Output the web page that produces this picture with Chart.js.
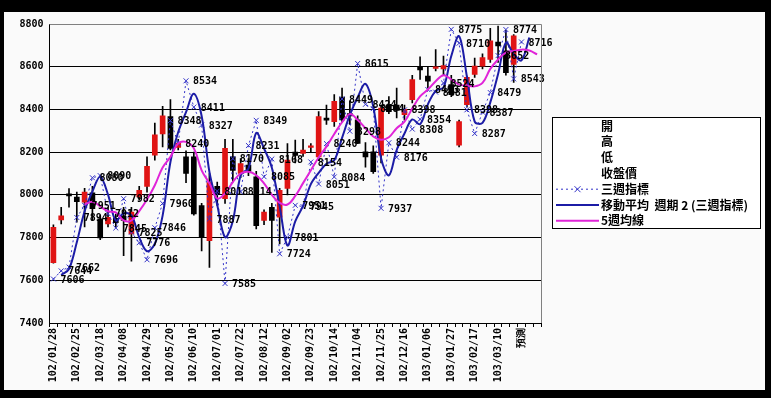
<!DOCTYPE html>
<html>
<head>
<meta charset="utf-8">
<script src="https://cdn.jsdelivr.net/npm/chart.js@4.4.1/dist/chart.umd.min.js"></script>
<style>
  html, body { margin: 0; padding: 0; background: #000; }
  #wrap { position: absolute; left: 4px; top: 12px; width: 761px; height: 378px; background: #fafafa; }
</style>
</head>
<body>
<div id="wrap"><canvas id="stockChart" width="761" height="378"></canvas></div>
<script>
// weekly categories (民國年), last one is the forecast slot
const weeks = [
  '102/01/28','102/02/04','102/02/18','102/02/25','102/03/04','102/03/11','102/03/18','102/03/25','102/04/01','102/04/08',
  '102/04/15','102/04/22','102/04/29','102/05/06','102/05/13','102/05/20','102/05/27','102/06/03','102/06/10','102/06/17',
  '102/06/24','102/07/01','102/07/08','102/07/15','102/07/22','102/07/29','102/08/05','102/08/12','102/08/19','102/08/26',
  '102/09/02','102/09/09','102/09/16','102/09/23','102/09/30','102/10/07','102/10/14','102/10/21','102/10/28','102/11/04',
  '102/11/11','102/11/18','102/11/25','102/12/02','102/12/09','102/12/16','102/12/23','102/12/30','103/01/06','103/01/13',
  '103/01/20','103/01/27','103/02/03','103/02/10','103/02/17','103/02/24','103/03/03','103/03/10','103/03/17','103/03/24',
  '預測','',''
];

const opens = [
  7683,7883,8005,7990,7966,8010,7888,7864,7890,7900,
  7817,7990,8040,8186,8285,8367,8222,8178,8178,7950,
  7785,8040,7982,8178,8100,8140,8084,7880,7942,7895,
  8030,8200,8194,8222,8178,8360,8343,8458,8380,8351,
  8202,8202,8186,8422,8420,8375,8446,8600,8556,8592,
  8590,8516,8233,8422,8564,8603,8634,8715,8674,8611
];
const highs = [
  7860,7942,8029,8013,8030,8040,7905,7940,7910,7942,
  7942,8040,8178,8336,8414,8446,8260,8206,8200,7960,
  8100,8060,8260,8260,8170,8170,8110,7930,7960,8030,
  8240,8257,8260,8240,8390,8420,8470,8500,8440,8370,
  8245,8230,8420,8460,8500,8420,8560,8646,8600,8680,
  8650,8560,8350,8556,8640,8660,8780,8790,8770,8750
];
const lows = [
  7680,7864,7942,7872,7850,7880,7790,7850,7850,7715,
  7690,7975,8013,8163,8225,8210,8210,8057,7905,7738,
  7660,7950,7960,8060,8080,8090,7840,7860,7730,7770,
  8000,8150,8180,8200,8160,8330,8320,8340,8330,8240,
  8130,8100,8150,8380,8360,8350,8430,8540,8500,8580,
  8560,8460,8225,8410,8550,8590,8620,8620,8560,8526
];
const closes = [
  7848,7902,7995,7968,8013,7935,7798,7895,7870,7880,
  7919,8021,8134,8281,8370,8218,8241,8100,7911,7800,
  8058,8005,8218,8115,8147,8110,7856,7919,7880,8021,
  8163,8185,8210,8230,8367,8350,8438,8351,8370,8241,
  8178,8108,8406,8390,8395,8400,8540,8585,8532,8600,
  8605,8469,8343,8550,8603,8643,8721,8697,8572,8745
];

// 三週指標
const threeWeek = [
  7606,7644,7662,7894,7951,8080,8090,7912,7845,7982,
  7825,7776,7696,7846,7960,8348,8240,8534,8411,8327,
  7887,8018,7585,8170,8014,8231,8349,8085,8168,7724,
  7801,7951,7945,8154,8051,8240,8084,8449,8298,8615,
  8424,8404,7937,8244,8176,8398,8308,8354,8493,8481,
  8524,8775,8710,8398,8287,8387,8479,8652,8774,8543,
  8716
];

// 移動平均 週期 2 (三週指標)
const movingAvg2 = [
  null,7625,7653,7778,7923,8016,8085,8001,7879,7914,
  7904,7801,7736,7771,7903,8154,8294,8387,8473,8369,
  8107,7953,7802,7878,8092,8123,8290,8217,8127,7946,
  7763,7876,7948,8050,8103,8146,8162,8267,8374,8457,
  8520,8414,8171,8091,8210,8287,8353,8331,8424,8487,
  8503,8650,8743,8554,8343,8337,8433,8566,8713,8659,
  8630,8737
];

// 5週均線
const ma5 = [
  null,null,null,null,7955,7968,7946,7923,7918,7880,
  7880,7924,7978,8045,8128,8178,8241,8248,8218,8115,
  8054,7983,8007,8060,8100,8108,8092,8054,8000,7962,
  7955,7995,8055,8115,8175,8226,8285,8340,8378,8351,
  8312,8273,8258,8270,8312,8343,8405,8461,8493,8532,
  8560,8540,8516,8512,8508,8524,8590,8634,8666,8674,
  8680,8676,8658
];

const RED = '#e01414';
const DOT_BLUE = '#3232c8';
const NAVY = '#1c1ca6';
const MAGENTA = '#e024d8';
const monoFont = '"DejaVu Sans Mono", monospace';

const bodyColors = opens.map((o, i) => closes[i] >= o ? RED : '#000');

// labels next to the 三週指標 points
const pointLabels = {
  id: 'pointLabels',
  afterDatasetsDraw(chart) {
    const ctx = chart.ctx;
    const meta = chart.getDatasetMeta(2);
    ctx.save();
    ctx.font = 'bold 10px ' + monoFont;
    ctx.fillStyle = '#000';
    ctx.textAlign = 'left';
    ctx.textBaseline = 'middle';
    meta.data.forEach((pt, i) => {
      if (threeWeek[i] == null) return;
      ctx.fillText(String(threeWeek[i]), pt.x + 7, pt.y + 1);
    });
    ctx.restore();
  }
};

// plot frame + boxed legend like the spreadsheet original
const frameAndLegend = {
  id: 'frameAndLegend',
  afterDraw(chart) {
    const ctx = chart.ctx;
    const a = chart.chartArea;
    ctx.save();
    ctx.strokeStyle = '#808080';
    ctx.lineWidth = 1;
    ctx.beginPath();
    ctx.moveTo(a.left, a.top + 0.5);
    ctx.lineTo(a.right + 0.5, a.top + 0.5);
    ctx.lineTo(a.right + 0.5, a.bottom);
    ctx.stroke();

    const bx = 548, by = 105, bw = 208, bh = 111;
    ctx.fillStyle = '#fff';
    ctx.fillRect(bx, by, bw, bh);
    ctx.strokeStyle = '#000';
    ctx.strokeRect(bx + 0.5, by + 0.5, bw, bh);
    ctx.beginPath();
    ctx.rect(bx + 1, by + 1, bw - 1, bh - 1);
    ctx.clip();

    const items = ['開', '高', '低', '收盤價', '三週指標', '移動平均  週期 2 (三週指標)', '5週均線'];
    const x0 = bx + 4, x1 = bx + 47;
    ctx.font = 'bold 12px "Noto Sans CJK TC", sans-serif';
    ctx.textBaseline = 'middle';
    ctx.fillStyle = '#000';
    items.forEach((t, k) => {
      const y = by + 9 + k * 15.8;
      if (k === 4) {
        ctx.strokeStyle = DOT_BLUE;
        ctx.setLineDash([2, 3]);
        ctx.beginPath(); ctx.moveTo(x0, y); ctx.lineTo(x1, y); ctx.stroke();
        ctx.setLineDash([]);
        const cx = (x0 + x1) / 2;
        ctx.beginPath();
        ctx.moveTo(cx - 3, y - 3); ctx.lineTo(cx + 3, y + 3);
        ctx.moveTo(cx + 3, y - 3); ctx.lineTo(cx - 3, y + 3);
        ctx.stroke();
      } else if (k === 5 || k === 6) {
        ctx.strokeStyle = k === 5 ? NAVY : MAGENTA;
        ctx.lineWidth = 2;
        ctx.beginPath(); ctx.moveTo(x0, y); ctx.lineTo(x1, y); ctx.stroke();
        ctx.lineWidth = 1;
      }
      ctx.fillText(t, x1 + 2, y);
    });
    ctx.restore();
  }
};

new Chart(document.getElementById('stockChart').getContext('2d'), {
  type: 'bar',
  data: {
    labels: weeks,
    datasets: [
      {
        type: 'line',
        label: '5週均線',
        data: ma5,
        borderColor: MAGENTA,
        borderWidth: 2,
        pointRadius: 0,
        tension: 0.4,
        fill: false,
        order: 1
      },
      {
        type: 'line',
        label: '移動平均 週期 2 (三週指標)',
        data: movingAvg2,
        borderColor: NAVY,
        borderWidth: 2,
        pointRadius: 0,
        tension: 0.35,
        fill: false,
        order: 2
      },
      {
        type: 'line',
        label: '三週指標',
        data: threeWeek,
        borderColor: DOT_BLUE,
        borderWidth: 1,
        borderDash: [2, 3],
        pointStyle: 'crossRot',
        pointRadius: 3.5,
        pointBorderColor: DOT_BLUE,
        pointBorderWidth: 1,
        fill: false,
        order: 3
      },
      {
        label: '收盤價',
        data: opens.map((o, i) => [o, closes[i]]),
        backgroundColor: bodyColors,
        borderWidth: 0,
        barThickness: 5,
        grouped: false,
        order: 5
      },
      {
        label: '高低',
        data: lows.map((l, i) => [l, highs[i]]),
        backgroundColor: '#000',
        borderWidth: 0,
        barThickness: 1,
        grouped: false,
        order: 6
      }
    ]
  },
  options: {
    responsive: false,
    animation: false,
    layout: { padding: { left: 0, top: 12, right: 224, bottom: 0 } },
    plugins: {
      legend: { display: false },
      tooltip: { enabled: false }
    },
    scales: {
      x: {
        offset: true,
        grid: { display: true, drawOnChartArea: false, drawTicks: true, tickLength: 4, color: '#000', offset: true },
        border: { color: '#000' },
        ticks: {
          autoSkip: false,
          minRotation: 90,
          maxRotation: 90,
          padding: 1,
          color: '#000',
          font: { family: monoFont, size: 10, weight: 'bold' },
          callback: function (value, index) {
            return index % 3 === 0 ? this.getLabelForValue(value) : '';
          }
        },
        afterFit: (scale) => { scale.height = 67; }
      },
      y: {
        min: 7400,
        max: 8800,
        grid: { color: '#000', lineWidth: 1, drawTicks: false },
        border: { color: '#000' },
        ticks: {
          stepSize: 200,
          padding: 6,
          color: '#000',
          font: { family: monoFont, size: 10, weight: 'bold' },
          callback: (v) => String(v)
        },
        afterFit: (scale) => { scale.width = 45.5; }
      }
    }
  },
  plugins: [pointLabels, frameAndLegend]
});
</script>
</body>
</html>
